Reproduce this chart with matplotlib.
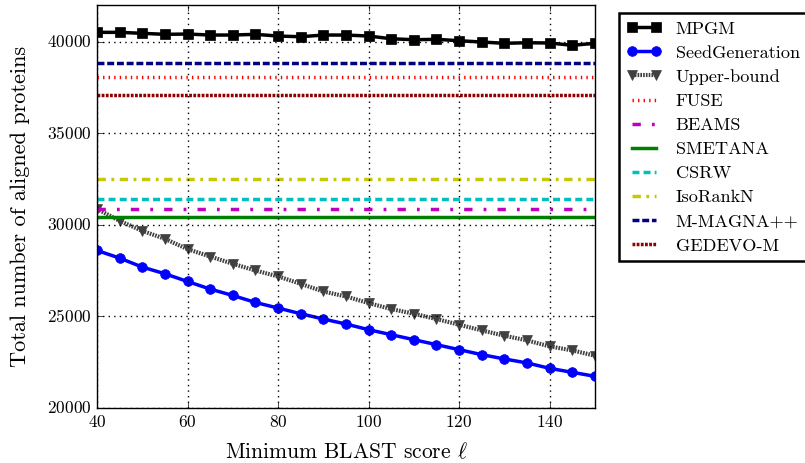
import matplotlib
matplotlib.use("Agg")
import matplotlib.pyplot as plt
import numpy as np

plt.style.use("classic")
plt.rcParams["font.family"] = "cmr10"
plt.rcParams["mathtext.fontset"] = "cm"
plt.rcParams["axes.formatter.use_mathtext"] = True

# minimum BLAST score
scores = np.arange(40, 151, 5)

mpgm = [40512, 40512, 40458, 40403, 40420, 40365, 40365, 40403, 40310, 40272,
        40365, 40365, 40310, 40163, 40109, 40131, 40055, 39984, 39913, 39945,
        39930, 39804, 39913]
seed_gen = [28600, 28185, 27695, 27330, 26908, 26493, 26145, 25763, 25458, 25147,
            24858, 24586, 24275, 24003, 23730, 23458, 23185, 22913, 22678, 22460,
            22166, 21948, 21730]
upper_bound = [30870, 30218, 29673, 29237, 28676, 28272, 27875, 27510, 27183, 26782,
               26362, 26090, 25730, 25403, 25147, 24858, 24548, 24237, 23948, 23692,
               23365, 23147, 22858]

# constant baselines
fuse = 38060
beams = 30870
smetana = 30436
csrw = 31400
isorankn = 32507
mmagna = 38855
gedevo = 37080

fig = plt.figure(figsize=(8.05, 4.63), dpi=100, facecolor="white")
ax = fig.add_axes([0.1205, 0.1188, 0.6185, 0.8702])

ax.plot(scores, mpgm, "k-s", lw=2.5, ms=7, label="MPGM")
ax.plot(scores, seed_gen, "b-o", lw=2.5, ms=7, mec="b", label="SeedGeneration")
ax.plot(scores, upper_bound, "v", ls=(0, (1.2, 0.8)), color="#404040", mec="#404040",
        lw=3, ms=6.5, label="Upper-bound")

ones = np.ones(len(scores))
ax.plot(scores, fuse * ones, ":", color="red", lw=2.5, label="FUSE")
ax.plot(scores, beams * ones, "-.", color="m", lw=2.5, dashes=(6, 8, 2, 8), label="BEAMS")
ax.plot(scores, smetana * ones, "-", color="green", lw=2.5, label="SMETANA")
ax.plot(scores, csrw * ones, "--", color="c", lw=2.5, dashes=(5, 3), label="CSRW")
ax.plot(scores, isorankn * ones, "-.", color="#c8c800", lw=2.5, dashes=(6, 4, 2, 4),
        label="IsoRankN")
ax.plot(scores, mmagna * ones, "--", color="navy", lw=2.5, dashes=(5, 2), label="M-MAGNA++")
ax.plot(scores, gedevo * ones, "--", color="darkred", lw=2.5, dashes=(2, 1), label="GEDEVO-M")

ax.set_xlim(40, 150)
ax.set_ylim(20000, 42000)
ax.set_xticks([40, 60, 80, 100, 120, 140])
ax.set_yticks([20000, 25000, 30000, 35000, 40000])
ax.grid(True, color="k", linestyle=":", lw=1)
ax.tick_params(labelsize=12.5)
ax.set_xlabel(r"Minimum BLAST score $\ell$", fontsize=15.5, labelpad=9)
ax.set_ylabel("Total number of aligned proteins", fontsize=16, labelpad=12)

leg = ax.legend(loc="upper left", bbox_to_anchor=(1.048, 0.98), fontsize=13.1,
                numpoints=2, handlelength=1.9, handletextpad=0.8, labelspacing=0.46,
                borderpad=0.42, borderaxespad=0, shadow=False, fancybox=False)
leg.get_frame().set_linewidth(1.8)

fig.savefig("out.png", dpi=100, facecolor="white")
